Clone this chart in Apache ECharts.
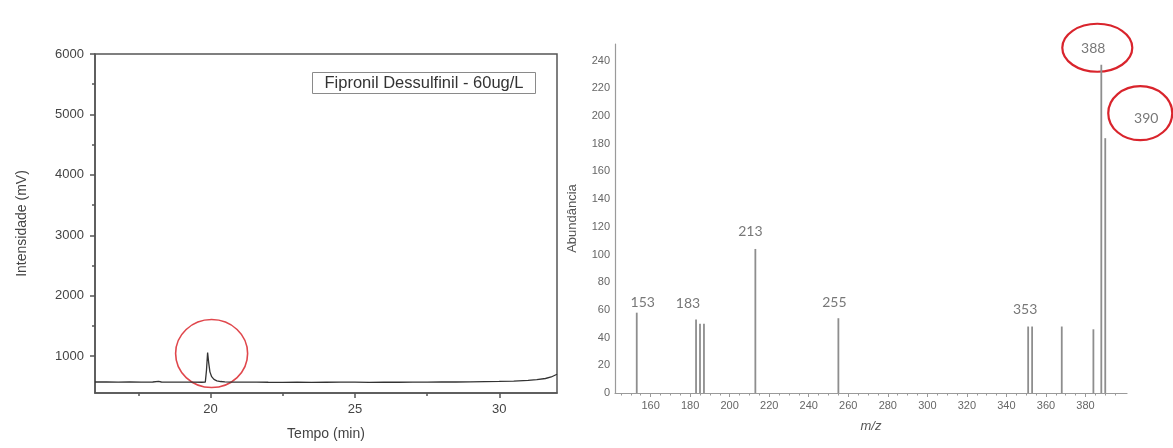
<!DOCTYPE html>
<html>
<head>
<meta charset="utf-8">
<script src="https://cdn.jsdelivr.net/npm/echarts@6/dist/echarts.min.js"></script>
<style>
  html, body { margin: 0; padding: 0; background: #fff; }
  #chart { width: 1173px; height: 448px; }
</style>
</head>
<body>
<div id="chart"></div>
<script>
// ---------- Chromatogram (left) ----------
const chromTime = [16.0,16.4,16.8,17.2,17.6,18.0,18.2,18.3,18.6,19.0,19.4,19.7,19.82,19.86,19.9,19.94,19.98,20.04,20.12,20.22,20.35,20.5,20.8,21.2,21.6,22.0,22.5,23.0,23.5,24.0,24.5,25.0,25.5,26.0,26.5,27.0,27.5,28.0,28.5,29.0,29.5,30.0,30.5,31.0,31.3,31.6,31.8,32.0];
const chromSignal = [572,574,571,573,570,572,582,572,570,571,569,568,570,760,1060,880,740,660,615,592,580,574,571,569,570,568,567,569,566,568,570,569,567,570,568,571,570,573,572,575,578,582,588,598,610,630,655,700];
const chromXLabels = [20, 25, 30];
const chromXMinor = [17.5, 22.5, 27.5];
const chromYLabels = [1000, 2000, 3000, 4000, 5000, 6000];
const chromYMinor = [1500, 2500, 3500, 4500, 5500];
const chromTitle = 'Fipronil Dessulfinil - 60ug/L';

// ---------- Mass spectrum (right) ----------
const msMz = [153, 183, 185, 187, 213, 255, 351, 353, 368, 384, 388, 390];
const msAbundance = [58, 53, 50, 50, 104, 54, 48, 48, 48, 46, 237, 184];
const msLabelMz = [153, 183, 213, 255, 353, 388, 390];
const msXLabels = [160, 180, 200, 220, 240, 260, 280, 300, 320, 340, 360, 380];
const msYLabels = [0, 20, 40, 60, 80, 100, 120, 140, 160, 180, 200, 220, 240];

// minor ticks of the m/z axis every 5 units (not data)
const msXMinor = [];
for (let v = 145; v <= 400; v += 5) if (v % 20 !== 0) msXMinor.push(v);

// label offsets (style) relative to bar tops
const labelOffsets = {153: [6, -10], 183: [-8, -16], 213: [-5, -17], 255: [-4, -16], 353: [-7, -17], 388: [-8, -16], 390: [41, -20]};

const chromData = chromTime.map((t, i) => [t, chromSignal[i]]);
const msData = msMz.map((m, i) => [m, msAbundance[i]]);
const msLabelData = msLabelMz.map(m => {
  const i = msMz.indexOf(m);
  return {
    value: [m, msAbundance[i]],
    label: { offset: labelOffsets[m] }
  };
});

const FONT = 'Liberation Sans, Arial, sans-serif';
const plain = v => String(v);
const chart = echarts.init(document.getElementById('chart'), null, { renderer: 'canvas' });

const option = {
  backgroundColor: '#ffffff',
  animation: false,
  grid: [
    { left: 95, top: 54, width: 462, height: 339, show: true, borderColor: '#555', borderWidth: 1.5, backgroundColor: 'transparent' },
    { left: 615, top: 44, width: 512, height: 349 }
  ],
  xAxis: [
    {
      gridIndex: 0, type: 'value', min: 16, max: 32, position: 'bottom',
      name: 'Tempo (min)', nameLocation: 'middle', nameGap: 34,
      nameTextStyle: { fontFamily: FONT, fontSize: 14, color: '#444' },
      axisLine: { show: true, lineStyle: { color: '#555', width: 1.5 } },
      axisTick: { show: true, length: 5, customValues: chromXLabels, lineStyle: { color: '#555', width: 1.5 } },
      axisLabel: { customValues: chromXLabels, formatter: plain, fontFamily: FONT, fontSize: 13, color: '#444', margin: 10 },
      splitLine: { show: false }
    },
    {
      gridIndex: 0, type: 'value', min: 16, max: 32, position: 'bottom',
      axisLine: { show: false },
      axisTick: { show: true, length: 3, customValues: chromXMinor, lineStyle: { color: '#555', width: 1.5 } },
      axisLabel: { show: false },
      splitLine: { show: false }
    },
    {
      gridIndex: 1, type: 'value', min: 142, max: 401, position: 'bottom',
      name: 'm/z', nameLocation: 'middle', nameGap: 27,
      nameTextStyle: { fontFamily: FONT, fontSize: 13, color: '#555', fontStyle: 'italic' },
      axisLine: { show: true, lineStyle: { color: '#9a9a9a', width: 1.2 } },
      axisTick: { show: true, length: 4, customValues: msXLabels, lineStyle: { color: '#9a9a9a', width: 1 } },
      axisLabel: { customValues: msXLabels, formatter: plain, fontFamily: FONT, fontSize: 11, color: '#666', margin: 7 },
      splitLine: { show: false }
    },
    {
      gridIndex: 1, type: 'value', min: 142, max: 401, position: 'bottom',
      axisLine: { show: false },
      axisTick: { show: true, length: 2.5, customValues: msXMinor, lineStyle: { color: '#9a9a9a', width: 1 } },
      axisLabel: { show: false },
      splitLine: { show: false }
    }
  ],
  yAxis: [
    {
      gridIndex: 0, type: 'value', min: 390, max: 6000, position: 'left',
      name: 'Intensidade (mV)', nameLocation: 'middle', nameGap: 66,
      nameTextStyle: { fontFamily: FONT, fontSize: 14, color: '#444' },
      axisLine: { show: true, lineStyle: { color: '#555', width: 1.5 } },
      axisTick: { show: true, length: 5, customValues: chromYLabels, lineStyle: { color: '#555', width: 1.5 } },
      axisLabel: { customValues: chromYLabels, formatter: plain, fontFamily: FONT, fontSize: 13, color: '#444', margin: 11 },
      splitLine: { show: false }
    },
    {
      gridIndex: 0, type: 'value', min: 390, max: 6000, position: 'left',
      axisLine: { show: false },
      axisTick: { show: true, length: 3, customValues: chromYMinor, lineStyle: { color: '#555', width: 1.5 } },
      axisLabel: { show: false },
      splitLine: { show: false }
    },
    {
      gridIndex: 1, type: 'value', min: 0, max: 252, position: 'left',
      name: 'Abundância', nameLocation: 'middle', nameGap: 36,
      nameTextStyle: { fontFamily: FONT, fontSize: 13, color: '#555' },
      axisLine: { show: true, lineStyle: { color: '#9a9a9a', width: 1.2 } },
      axisTick: { show: false },
      axisLabel: { customValues: msYLabels, formatter: plain, fontFamily: FONT, fontSize: 11, color: '#666', margin: 5 },
      splitLine: { show: false }
    }
  ],
  series: [
    {
      type: 'line', xAxisIndex: 0, yAxisIndex: 0, data: chromData,
      showSymbol: false, symbol: 'none',
      lineStyle: { color: '#333', width: 1.3 }
    },
    {
      type: 'custom', xAxisIndex: 2, yAxisIndex: 2, data: msData,
      renderItem: function (params, api) {
        const top = api.coord([api.value(0), api.value(1)]);
        const base = api.coord([api.value(0), 0]);
        return {
          type: 'line',
          shape: { x1: top[0], y1: top[1], x2: base[0], y2: base[1] },
          style: { stroke: '#8e8e8e', lineWidth: 1.8 }
        };
      }
    },
    {
      type: 'scatter', xAxisIndex: 2, yAxisIndex: 2, data: msLabelData,
      symbolSize: 0, silent: true,
      label: {
        show: true, position: 'inside',
        formatter: p => String(p.value[0]),
        fontFamily: 'Lato, Open Sans, sans-serif', fontSize: 14, color: '#555'
      }
    }
  ]
};
chart.setOption(option);

// ---------- Annotations anchored on data ----------
const peakIdx = chromSignal.indexOf(Math.max.apply(null, chromSignal));
const peakPx = chart.convertToPixel({ xAxisIndex: 0, yAxisIndex: 0 }, [chromTime[peakIdx], chromSignal[peakIdx]]);
const p388 = chart.convertToPixel({ xAxisIndex: 2, yAxisIndex: 2 }, [388, msAbundance[msMz.indexOf(388)]]);
const p390 = chart.convertToPixel({ xAxisIndex: 2, yAxisIndex: 2 }, [390, msAbundance[msMz.indexOf(390)]]);

chart.setOption({
  graphic: [
    {
      type: 'group', left: 312, top: 72,
      children: [
        { type: 'rect', shape: { x: 0, y: 0, width: 223, height: 21 }, style: { fill: '#fff', stroke: '#8a8a8a', lineWidth: 1 } },
        { type: 'text', x: 111.5, y: 11, style: { text: chromTitle, fontFamily: FONT, fontSize: 16.5, fill: '#333', textAlign: 'center', textVerticalAlign: 'middle' } }
      ]
    },
    {
      type: 'ellipse', silent: true,
      shape: { cx: peakPx[0] + 4, cy: peakPx[1] + 1, rx: 36, ry: 34 },
      style: { fill: 'none', stroke: '#e0474c', lineWidth: 1.6 }
    },
    {
      type: 'ellipse', silent: true,
      shape: { cx: p388[0] - 4, cy: p388[1] - 17, rx: 35, ry: 24 },
      style: { fill: 'none', stroke: '#d9242c', lineWidth: 2.2 }
    },
    {
      type: 'ellipse', silent: true,
      shape: { cx: p390[0] + 35, cy: p390[1] - 25, rx: 32, ry: 27 },
      style: { fill: 'none', stroke: '#d9242c', lineWidth: 2.2 }
    }
  ]
});
</script>
</body>
</html>
